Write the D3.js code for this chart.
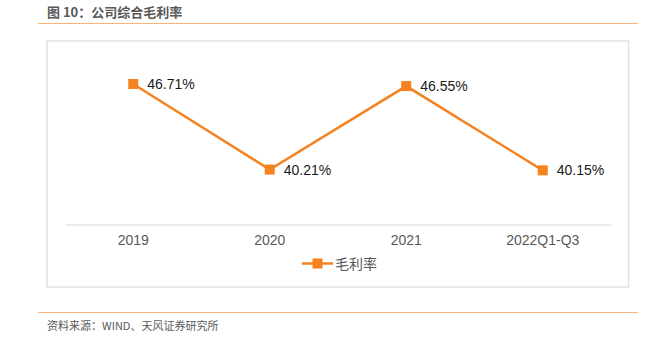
<!DOCTYPE html>
<html><head><meta charset="utf-8">
<script src="https://cdn.jsdelivr.net/npm/d3@7"></script>
<style>
html,body{margin:0;padding:0;background:#fff;}
svg{display:block;}
text{font-family:"Liberation Sans","Noto Sans CJK SC",Arial,sans-serif;}
</style></head>
<body>
<svg id="chart" width="647" height="340"></svg>
<script>
const categories = ["2019", "2020", "2021", "2022Q1-Q3"];
const grossMargin = [46.71, 40.21, 46.55, 40.15];
const valueLabels = ["46.71%", "40.21%", "46.55%", "40.15%"];
const seriesName = "毛利率";
const titleText = "图 10：公司综合毛利率";
const sourceText = "资料来源：WIND、天风证券研究所";

const svg = d3.select("#chart");
const orange = "#F5821F";
const cjk = "'Noto Sans CJK SC','Liberation Sans',sans-serif";

// title
svg.append("text").attr("x", 47).attr("y", 17)
  .attr("font-size", 13).attr("font-weight", "bold").attr("fill", "#595959")
  .style("font-family", cjk).text(titleText);
svg.append("line").attr("x1", 38).attr("x2", 638).attr("y1", 23.5).attr("y2", 23.5)
  .attr("stroke", "#F9B47A").attr("stroke-width", 1.2);

// chart frame
svg.append("rect").attr("x", 47).attr("y", 41).attr("width", 581.5).attr("height", 246)
  .attr("fill", "#fff").attr("stroke", "#DEDEDE").attr("stroke-width", 1.3);

const x = d3.scaleBand().domain(categories).range([65, 611]);
const y = d3.scaleLinear().domain([36, 48]).range([225, 67]);

// axis
const xAxis = svg.append("g").attr("transform", "translate(0,224.5)")
  .call(d3.axisBottom(x).tickSize(0).tickPadding(11));
xAxis.select(".domain").attr("stroke", "#D9D9D9").attr("stroke-width", 1.2);
xAxis.selectAll("text").attr("font-size", 14).attr("fill", "#595959")
  .style("font-family", "'Liberation Sans',Arial,sans-serif");

const cx = (d, i) => x(categories[i]) + x.bandwidth() / 2;

const line = d3.line().x((d, i) => cx(d, i)).y(d => y(d));
svg.append("path").datum(grossMargin).attr("d", line)
  .attr("fill", "none").attr("stroke", orange).attr("stroke-width", 2.5);

const ms = 10;
svg.selectAll("rect.m").data(grossMargin).enter().append("rect").attr("class", "m")
  .attr("x", (d, i) => cx(d, i) - ms / 2).attr("y", d => y(d) - ms / 2)
  .attr("width", ms).attr("height", ms).attr("fill", orange);

svg.selectAll("text.lbl").data(grossMargin).enter().append("text").attr("class", "lbl")
  .attr("x", (d, i) => cx(d, i) + 14).attr("y", d => y(d) + 5)
  .attr("font-size", 14).attr("fill", "#1a1a1a")
  .text((d, i) => valueLabels[i]);

// legend
const lg = svg.append("g");
lg.append("line").attr("x1", 302).attr("x2", 333).attr("y1", 263.5).attr("y2", 263.5)
  .attr("stroke", orange).attr("stroke-width", 2.5);
lg.append("rect").attr("x", 317.5 - 5).attr("y", 263.5 - 5).attr("width", 10).attr("height", 10).attr("fill", orange);
lg.append("text").attr("x", 335).attr("y", 268.5).attr("font-size", 14).attr("fill", "#595959")
  .style("font-family", cjk).text(seriesName);

// bottom line and source
svg.append("line").attr("x1", 38).attr("x2", 638).attr("y1", 312.5).attr("y2", 312.5)
  .attr("stroke", "#F9B47A").attr("stroke-width", 1.2);
svg.append("text").attr("x", 47).attr("y", 330).attr("font-size", 11).attr("fill", "#595959")
  .style("font-family", cjk).text(sourceText);
</script>
</body></html>
